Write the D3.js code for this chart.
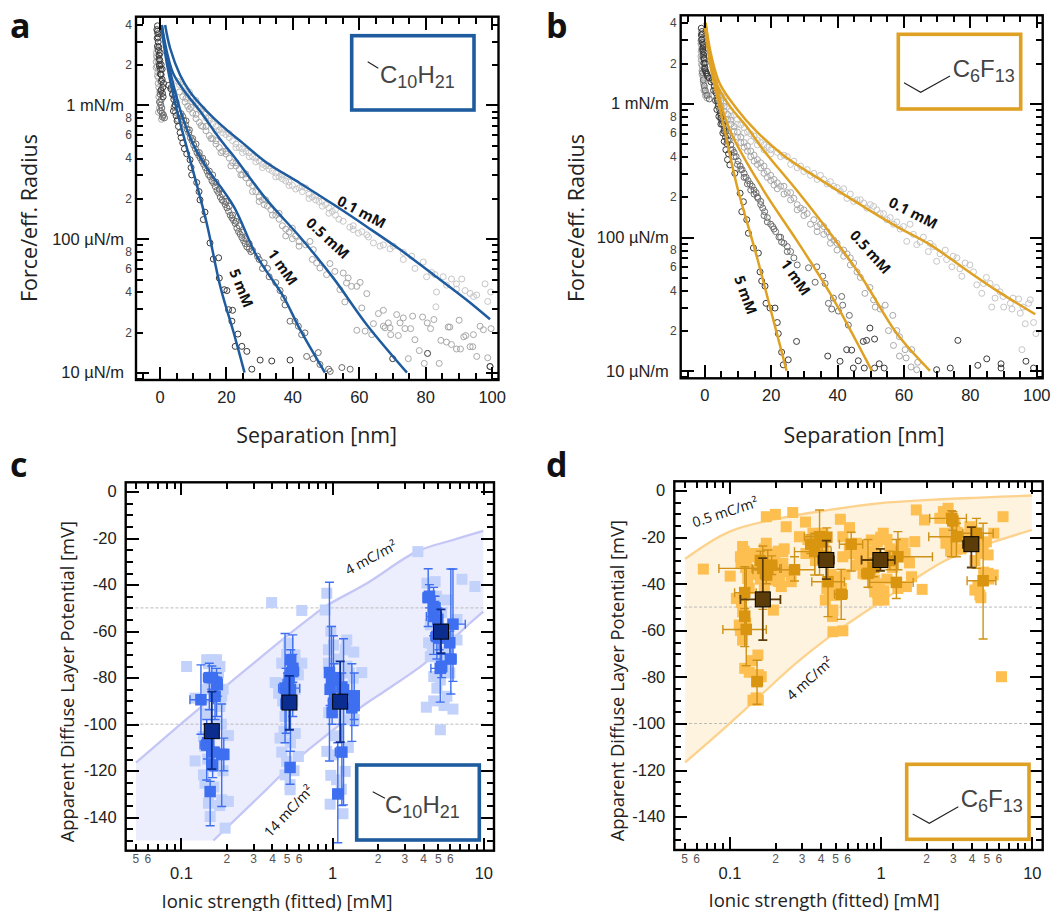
<!DOCTYPE html>
<html><head><meta charset="utf-8">
<style>html,body{margin:0;padding:0;background:#fff}svg{display:block}text{font-family:"Liberation Sans",Arial,sans-serif}
.ot{font-family:"Open Sans",sans-serif}.tick line{shape-rendering:crispEdges}</style>
<script src="https://cdn.jsdelivr.net/npm/d3@7/dist/d3.min.js"></script></head><body>
<svg id="c" width="1051" height="911"></svg>
<script>
// ---------- panel a : separation [nm], force/radius [µN/m] ----------
const a01=[[5.5,1500],[6,1420],[6.5,1480],[7.5,1350],[8,1260],[8.5,1190],[9.5,1120],[10,1050],[11,1010],[12,950],[12.5,890],[13.5,860],[14,800],[15,760],[16,720],[17,690],[18,650],[19,620],[20,600],[21,570],[22,540],[23,510],[24,480],[25,470],[26,450],[27,440],[28,410],[29,400],[30,380],[31,360],[32,350],[33,330],[34,320],[35,310],[36,290],[37,300],[38,270],[39,265],[40,250],[42,240],[43,225],[44,240],[45,215],[46,205],[47,195],[48,190],[49,175],[50,180],[51,170],[52,160],[53,150],[54,140],[55.3,135],[58.3,117],[59.9,110],[62.4,107],[64.4,93],[67.4,90],[70.4,88],[73.4,79],[75.9,74],[79.4,67],[76.9,60],[82.9,54],[85.4,52],[87.9,50],[91,50],[83.4,40],[83.2,31],[86.4,45],[89.4,42],[92,41],[93.5,39],[95.5,38],[98,46],[99.7,40],[98.8,34],[94.5,37],[81.9,56],[80.4,52],[89.4,46],[73.4,70],[69.4,84],[66.4,88],[58.3,125],[60.9,113],[62.9,103],[57.3,122],
[7,1420],[9,1250],[11,1080],[13,930],[15,800],[17,640],[19,660],[21,610],[23,480],[25,440],[27,410],[29,375],[31,340],[33,350],[35,290],[37,280],[39,250],[41,235],[43,245],[45,200],[47,210],[49,190],[51,155],[53,165]];
const a05=[[-0.9,2300],[-1,2100],[-0.7,1950],[-0.5,1750],[-0.3,1600],[-0.4,1450],[-0.7,2600],[-0.9,2450],[-0.6,2250],[-0.5,2150],[-1,1900],[-0.2,1850],[0.2,1700],[-0.6,1650],[0.3,1500],[-0.2,1350],[0.1,1250],[-0.2,1150],[0.3,1050],[0,950],[-0.3,880],[1,830],[0.6,780],[6,1250],[7,1150],[7.7,1050],[8.5,980],[9,930],[10,870],[11,790],[12,740],[13,690],[14,640],[15,590],[16,560],[17,510],[18,480],[19,450],[20,430],[21,400],[22,370],[23,350],[24,330],[25,300],[26,285],[27,260],[28,250],[29,225],[30,205],[31,195],[31.5,180],[32.5,175],[33.5,165],[35,150],[36,140],[37,125],[38,118],[39,112],[40,120],[41,105],[42,95],[45.3,95.5],[46.3,82.8],[47.3,65.9],[48.3,60.4],[50.3,53.9],[51.3,65.2],[52.8,57],[55.3,55.4],[56.8,50.9],[56.3,46.7],[57.8,44.1],[59.4,44.1],[60.4,47.2],[62.4,38.9],[54.3,41.7],[55.8,33.7],[60.9,30.4],[59.4,20.7],[61.9,20.4],[64.4,23.2],[63.9,19.2],[65.9,27.6],[67.4,29.2],[67.4,22.2],[68.9,23.5],[67.9,21.6],[69.4,21.6],[69.6,19.2],[71.9,18.9],[71.4,27.1],[73.4,25.6],[72.4,23.5],[73.9,21.3],[75.6,21.3],[76.2,26.4],[79.2,26],[80.6,23.5],[82.6,24.9],[81.6,21.3],[76.9,17.6],[78.2,14.6],[74.9,12.7],[79.7,11.7],[84.2,11.7],[90.2,24.6],[86.9,21.9],[87.4,21.9],[96.5,22.2],[97.5,20.9],[99.8,21.3],[84.7,17.4],[86.4,16.9],[87.9,16.2],[89.4,15],[90.6,15],[91.6,18.5],[92.2,18.9],[94.5,19.2],[93.5,15.6],[94.3,15.6],[95.5,13.2],[98.8,12.9],[99.5,11.1],
[8,1120],[9.5,960],[11,850],[12.5,700],[14,690],[15.5,560],[17,540],[18.5,440],[20,450],[21.5,350],[23,370],[24.5,300],[26,305],[28,225],[30,190],[32,195],[34,150],[36,155],[38,105],[40,100],[42,88],[44,90],[46,70]];
const a1=[[0.5,1300],[0.2,1200],[0.6,1100],[0,1050],[0.4,1000],[0.7,950],[0.3,900],[0.8,870],[1.2,840],[0.9,810],[1.5,800],[3.5,1350],[4,1200],[4.5,1150],[5,1050],[4.4,960],[4.8,880],[5.5,780],[6.5,860],[7,820],[7.3,770],[7.8,710],[8.3,660],[8.8,620],[9.3,570],[9.8,540],[10.3,500],[10.8,470],[11.3,440],[11.8,420],[12.3,400],[12.8,380],[13.3,360],[13.8,340],[14.3,320],[14.8,300],[15.3,290],[15.8,270],[16.3,260],[16.8,245],[17.3,230],[17.8,220],[18.3,205],[18.8,195],[19.3,190],[19.8,180],[20.3,170],[20.8,160],[21.3,150],[21.8,143],[22.3,137],[22.8,130],[23.3,120],[23.8,113],[24.3,108],[24.8,102],[25.3,97],[25.8,92],[26.3,87],[27,84],[27.5,80],[29.5,74],[31,60],[32.5,60],[33,52],[35,47],[36.3,41],[37.4,36],[37.8,32],[39.3,24.2],[40.8,24.2],[41.8,22.2],[43.8,19.8],[42.8,19.2],[44.3,13.2],[46.3,12.7],[47.8,14.1],[48.3,11.5],[50.9,10.6],[51.4,10.2],[54.9,10.9],[57.4,10.6],
[8,760],[9,650],[10,560],[11,510],[12,440],[13,400],[14,370],[15,320],[16,300],[17,265],[18,235],[19,215],[20,190],[21,175],[22,150],[23,135],[24,125],[25,112],[26,100],[27,92],[28,82],[30,70],[31.5,66]];
const a5=[[-0.6,3900],[-0.8,3650],[-0.5,3400],[-0.7,3150],[-0.4,2950],[-0.6,2750],[-0.3,2550],[-0.1,2350],[0.1,2150],[0,2000],[0.3,1850],[0.5,1680],[0.8,1550],[1.2,1450],[2.8,1400],[3.4,1320],[3.9,1200],[4.3,1100],[4.7,1000],[4.2,900],[5,830],[5.3,760],[5.7,690],[6.2,620],[6.5,570],[7,520],[7.5,470],[8.2,431],[9.2,389],[9.5,340],[9.7,300],[11.2,263],[11.9,225],[12.2,195],[13.7,158],[13.2,139],[15.2,93],[16.2,70.5],[17.8,72],[18,50.8],[19.5,41.6],[20.3,41],[20.8,29.5],[22,29.2],[21.8,24.2],[23.6,19.4],[24.8,15.7],[22.8,15.7],[26.3,14.4],[30.3,12.4],[33.8,12.2],[39.3,12.4],[27.8,10.6],[80.7,13.9],[70.2,12.7],[99.5,11.1],
[0,1950],[-0.2,2700],[-0.6,3550],[-0.4,3200],[0.2,2450],[-0.1,2200],[0.5,2000],[0.8,1850],[0.3,1700],[0.6,1500],[1,1350],[0.9,1220],[1.1,1150],[0.4,1280]];
const aFit01=[[1.7,3950],[3.2,2650],[6.2,1675],[9.2,1250],[14.2,900],[19.1,688],[25.1,518],[32.3,370],[42.3,260],[52.4,180],[62.4,123],[72.4,83],[82.4,54],[92.4,35],[99.5,25]];
const aFit05=[[0.7,3950],[2.2,2500],[4.2,1700],[8.2,1200],[12.2,900],[17.2,600],[20.2,480],[22.3,415],[32.3,195],[42.3,103],[52.3,51],[62.4,22.8],[74.5,10]];
const aFit1=[[0.7,3950],[1.7,2660],[4.2,1410],[6.7,842],[10.2,503],[14.2,340],[22.3,175],[29.3,74],[37.3,37],[42.3,21],[49.8,10]];
const aFit5=[[0.5,3950],[2.2,2050],[5.2,920],[9.2,390],[14.2,131],[18.3,44],[22.3,20],[25.6,10]];

// ---------- panel b ----------
const b01=[[3,1300],[5,1150],[6,1020],[7,950],[8,880],[9,820],[10,760],[11,690],[12,660],[13,610],[14,590],[15,570],[16,530],[17,510],[18,490],[19,470],[20,450],[22,430],[24,410],[25,400],[27,370],[29,340],[31,320],[33,300],[35,290],[36,270],[38,260],[40,235],[42,230],[44,210],[46,190],[48,180],[50,175],[52,160],[54,150],[56,140],[58,130],[60,120],[61,93],[62,125],[64,88],[66,100],[67.5,78],[69,85],[70,66],[72.6,80],[74.6,60],[76.1,70],[77.6,51],[78.6,64],[81.1,55],[82.1,44],[83.6,38],[84.1,45],[86.1,45],[86.6,30],[87.6,35],[89.1,39],[90.2,30],[92.2,32],[92.7,29],[94.7,34.5],[95.2,27],[95.7,14.4],[96.7,22.5],[97.7,32],[98.2,34],[99.2,23],[99.9,19],
[4,1250],[6,1100],[8,800],[10,700],[12,600],[14,520],[16,490],[18,450],[20,420],[23,400],[26,350],[28,330],[30,310],[32,290],[34,270],[37,250],[39,240],[41,220],[43,195],[45,185],[47,190],[49,165],[51,170],[53,150],[55,135],[57,125],[59,115],[63,105],[65,92],[68,90],[71,75],[73,68],[75,72],[77,58],[80,62],[85,50],[88,42],[90,36],[93,35],[96,30]];
const b05=[[-1,2950],[-0.9,2750],[-0.8,2550],[-0.7,2300],[-0.9,2100],[-0.6,1900],[-0.7,1750],[-0.4,1600],[-0.3,1450],[0,1300],[0.5,1200],[1.2,1150],[4,1150],[5,1050],[6,950],[7,830],[8,750],[9,670],[10,610],[11,560],[12,510],[13,480],[14,440],[15,410],[16,380],[17,360],[18,340],[19,310],[20,290],[21,270],[22,255],[23,240],[24,240],[25,215],[26,215],[27,195],[28,175],[29,165],[30,160],[31,150],[33,135],[34,120],[35,125],[36,120],[37,110],[38,100],[39,95],[40,90],[42,80],[43,75],[44,70],[45,64],[46,55],[47,50],[49.9,42],[48.4,38],[51,34],[51.5,30],[54.5,31],[53,29],[56.8,26],[55.5,20],[58,20],[58.8,18],[57,15.5],[60.5,14.4],[62.5,14.4],[58.8,12.9],[60.8,12.5],[64.3,11.6],[62.3,10.7],[64,10.2],
[5,950],[6,870],[7,760],[8,700],[9,620],[10,560],[11,510],[12,470],[13,440],[14,400],[15,370],[16,350],[17,330],[18,300],[19,280],[20,265],[21,245],[22,230],[24,210],[26,190],[28,160],[30,145],[32,125],[34,110],[36,105],[38,90],[40,80],[42,72],[44,62],
[-0.8,3000],[-1,2800],[-0.6,2600],[-0.9,2450],[-1,2250],[-0.5,2050],[-0.8,1950],[-0.5,1800],[-0.7,1650],[-0.3,1550],[-0.2,1400],[-0.1,1250],[0.3,1150],[0.8,1100]];
const b1=[[-0.5,1700],[-0.3,1500],[0,1350],[0.3,1250],[0.8,1150],[1.5,1080],[3,1450],[3.4,1250],[3.8,1100],[4.2,1000],[4.6,900],[5,820],[5.5,740],[6,680],[6.5,620],[7,570],[7.5,530],[8,490],[8.5,450],[9,430],[9.6,400],[10.2,370],[10.8,340],[11.4,320],[12,300],[12.6,280],[13.2,265],[13.8,250],[14.4,240],[15,225],[15.6,215],[16.2,195],[17,185],[17.6,165],[18.2,155],[19,140],[20,125],[20.6,120],[21.5,110],[22.5,100],[23.3,92],[24,90],[25,85],[26,78],[27,70],[28,62],[31.4,59],[33.9,60],[35.7,51],[33.4,46],[36.4,45],[38.9,35],[41.4,36],[37.4,32],[38.4,29],[40.4,28],[41.7,31],[43.7,26],[43.4,22],
[4,1050],[5,760],[6,640],[7,530],[8,450],[9,400],[10,350],[11,320],[12,280],[13,250],[14,225],[15,210],[16,200],[17,175],[18,145],[19,130],[21,115],[23,100],[25,78]];
const b5=[[-0.9,3650],[-0.7,3450],[-0.9,3250],[-0.5,3050],[-0.6,2850],[-0.3,2650],[-0.4,2450],[-0.2,2300],[0,2150],[-0.1,2000],[0.2,1850],[0.4,1750],[0.8,1650],[1.5,1550],[2.5,1500],[3,1350],[3.5,1200],[4,1050],[4.2,950],[4.8,850],[5,780],[5.5,700],[6,620],[6.4,560],[6.8,500],[7.3,420],[7.7,347],[9.2,300],[10.8,213],[11.8,184],[11.3,155],[12.8,135],[13.3,107],[14.8,83],[16.3,76],[16.8,55],[17.3,47],[18.3,43],[18.6,32],[19.8,29.5],[21.3,29.5],[22,23],[22.3,19],[23.3,13.8],[25.3,12.1],[23.8,11.1],[27.8,16.6],[37.2,12.9],[40.9,11.8],[46.4,11.9],[42.9,14.4],[44.4,14.3],[47.9,16.6],[48.9,16.9],[51.3,17.3],[49.9,20.9],[44.9,10.5],[48.2,10.5],[51.3,10.5],[52.7,11.3],[54.2,10.5],[70,10.2],[74.1,10.5],[76.4,16.9],[82.4,11],[85.1,12.3],[89.4,11.3],[89.4,10.5],[96.9,11.8],[99.2,10.5],
[-0.6,3300],[-0.8,3000],[-0.3,2750],[-0.5,2550],[0,2400],[-0.2,2200],[0.3,2000],[0.1,1800],[0.6,1700],[1,1600],[2,1450],[2.8,1250],[3.4,1050],[3.8,900],[4.4,800],[5,700],[5.6,600],[6,520],[6.5,450],[7,380]];
const bFit01=[[0.4,4000],[2.2,2230],[4.7,1400],[9.7,918],[15.8,615],[23.8,410],[35.9,260],[48,169],[58,120],[68,88],[78,59],[88,40],[99.7,26.5]];
const bFit05=[[0.4,4000],[1.7,2360],[3.7,1410],[7.7,950],[12.8,670],[17.8,449],[27.8,225],[37.9,107],[47.9,48],[58,19],[68,10]];
const bFit1=[[0.2,4000],[1.7,2230],[3.7,1330],[7.7,630],[17.8,225],[27.8,95],[37.9,38],[50.5,10]];
const bFit5=[[0.1,4000],[1.7,2000],[5.7,710],[9.7,250],[15.8,72],[19.8,30],[24.8,10]];

// ---------- panel c : ionic strength [mM], potential [mV] ----------
const cLight=[[.109,-75.2],[.124,-115.8],[.124,-88.8],[.148,-72.3],[.16,-72.3],[.172,-72.3],[.181,-75.2],[.177,-78],[.186,-88],[.206,-104.9],[.148,-95.3],[.144,-109.6],[.141,-121.8],[.144,-125.4],[.152,-134],[.156,-139.7],[.186,-132.5],[.206,-133.2],[.196,-144.7],[.172,-115.3],[.164,-118.2],[.181,-92.4],[.141,-105.3],[.152,-74],[.168,-76],[.19,-85],[.15,-85],[.17,-100],[.185,-100],[.15,-115],[.19,-120],[.165,-127],[.18,-135],
[.398,-47.7],[.63,-51.1],[.42,-82.1],[.464,-73.8],[.63,-73.8],[.583,-74.5],[.568,-70.2],[.443,-86.7],[.452,-106],[.464,-112],[.598,-113.9],[.527,-128.2],[.488,-121.8],[.554,-70.9],[.598,-78.8],[.488,-82.4],[.488,-96.7],[.514,-65.2],[.527,-126],[.5,-70],[.52,-76],[.55,-90],[.47,-90],[.57,-85],[.48,-103],[.53,-108],[.57,-104],[.5,-116],[.56,-120],
[.922,-43.7],[.9,-50.9],[1.25,-63.8],[1.39,-69],[1.57,-77.8],[1.22,-68],[1.38,-80.2],[1.32,-89.5],[1.19,-98.1],[.922,-111.7],[1.02,-113.2],[1.22,-120.3],[.97,-134.4],[1.18,-138.5],[1.07,-123.9],[.946,-73.8],[.946,-68],[.98,-60],[1.02,-66],[1.1,-72],[1.25,-75],[1.3,-78],[1,-85],[1.12,-95],[.95,-95],[1.05,-105],[1.15,-128],[1.28,-110],[.98,-122],[1.4,-98],
[3.69,-25.8],[7.23,-37.7],[8.8,-40.8],[4.24,-39.4],[4.8,-38.7],[5.74,-46.6],[6.7,-55],[4.35,-65],[6.7,-63.8],[4.46,-71],[4.93,-84.5],[5.74,-88],[4.2,-92.7],[6.3,-93.5],[5.2,-102.4],[4.7,-79.5],[5.9,-68],[4.46,-57.3],[4.5,-45],[4.9,-45],[5.3,-52],[5.6,-60],[5,-58],[4.6,-67],[5.1,-70],[5.6,-75],[4.7,-90],[5.5,-92],[5.2,-81],[6,-78]];
// columns: I, V, Ilo, Ihi, Vlo, Vhi
const cMid=[[.1356,-89.5,.1147,.164,-104.3,-74.5],[.154,-80,.141,.172,-93.8,-73.8],[.172,-82,.16,.186,-96.7,-76],[.168,-88,.156,.181,-98,-79.5],[.148,-109,.134,.164,-124,-98],[.186,-113,.16,.201,-135.4,-91.3],[.162,-117.5,.148,.172,-123,-112],[.156,-129,.148,.164,-143.7,-124.6],[.15,-108,.14,.16,-115,-100],[.165,-112,.155,.18,-120,-105],[.192,-113,.18,.205,-120,-106],[.16,-80,.15,.17,-85,-75],[.174,-83,.165,.185,-88,-78],
[.549,-77.4,.5,.6,-96.7,-61.6],[.488,-84.5,.443,.61,-108,-61],[.532,-72.3,.5,.56,-91.7,-68],[.496,-91.3,.46,.53,-103.9,-76],[.527,-118.6,.5,.56,-125.8,-111.7],[.53,-85,.5,.56,-111.7,-71],[.51,-84,.48,.54,-90,-78],[.55,-76,.52,.58,-82,-70],[.52,-80,.49,.55,-86,-74],[.5,-87,.47,.53,-93,-81],
[.96,-77.8,.9,1.02,-115.8,-39],[.99,-81,.93,1.05,-96,-58],[1.02,-91,.95,1.08,-96,-62],[1.19,-85.2,1.1,1.28,-134.7,-63.3],[1.4,-87.8,1.3,1.5,-100.6,-78],[1.35,-93,1.25,1.42,-107.4,-74],[1.16,-112,1.05,1.22,-135,-100],[1.09,-130,1.02,1.16,-151,-108],[.97,-85,.92,1.02,-92,-78],[1,-95,.95,1.05,-100,-90],[1.16,-84,1.1,1.22,-90,-78],[1.03,-80,.98,1.08,-86,-74],[1.4,-92,1.32,1.48,-98,-86],
[4.32,-45.6,4,4.7,-58,-33.2],[4.69,-49.4,4.4,5,-62,-41.2],[4.69,-53.7,4.2,5.3,-70,-45],[4.93,-62.3,4.5,5.4,-72,-50],[6.3,-57,5.2,7.6,-81.6,-33.3],[6.1,-72,5.6,6.6,-87,-33.3],[5.19,-76,4.5,5.7,-90.5,-62],[4.4,-45,4.1,4.7,-50,-40],[4.8,-50,4.5,5.1,-55,-45],[5,-55,4.7,5.3,-60,-50],[5.1,-63,4.8,5.4,-68,-58],[5.3,-75,5,5.6,-80,-70],[6,-65,5.7,6.3,-70,-60]];
const cMean=[[.16,-103,.148,.172,-119.3,-86],[.522,-90.7,.48,.56,-102.4,-79.2],[1.13,-90.3,1.02,1.25,-107.7,-73],[5.25,-60.2,4.95,5.55,-69.5,-50.6]];
const cUpper=[[.0504,-116.5],[.0995,-100],[.222,-81],[.527,-61],[.713,-54.3],[.9,-49.4],[1.7,-39.4],[3.62,-25.8],[6.3,-20.8],[10,-16.9]];
const cLower=[[.164,-150],[.369,-128],[.614,-114],[1.02,-102.4],[1.53,-93],[2.29,-85.3],[3.98,-74.5],[5.8,-65.5],[8.15,-56.6],[10,-51.6]];
const cFloorI=[.0504,.164], cFloorV=-150;

// ---------- panel d ----------
const dLight=[[.175,-11.2],[.201,-10.2],[.262,-9.4],[.237,-15.5],[.318,-13.5],[.541,-12.3],[.622,-15.9],[.122,-24],[.118,-28.4],[.119,-31.2],[.146,-28.4],[.175,-22.6],[.225,-26.2],[.199,-27.6],[.225,-31.2],[.15,-34.1],[.256,-39.1],[.22,-41.2],[.132,-37.7],[.101,-36.7],[.0671,-33.7],[.195,-51.3],[.111,-46.3],[.483,-51.3],[.483,-60.6],[.562,-60.2],[.154,-70.6],[.126,-76.3],[.162,-79.9],[.143,-90],[.122,-64.2],[.116,-57.7],[.562,-19.8],[.562,-28.4],[.69,-22.6],[.726,-28.4],[.845,-31.9],[.912,-38.4],[.959,-47],[.508,-37],[.459,-44.1],[.29,-19.8],[.356,-18.3],[.415,-18.3],[.214,-36.7],[.179,-38.4],[.179,-32.7],[.158,-29.8],[.243,-34.8],[.366,-22.6],
[1.72,-8.3],[1.95,-12.6],[2.79,-7.6],[2.46,-11.9],[2.65,-18.3],[2.7,-22.6],[6.45,-11.2],[5.6,-18.3],[1.68,-21.9],[1.41,-22.6],[1.04,-18.3],[.867,-21.2],[.764,-23.3],[1.05,-47],[.912,-43.4],[.764,-35.5],[1.88,-42.4],[1.48,-41.2],[4.2,-42.7],[4.53,-44.8],[5.14,-35.5],[5.55,-36.2],[5.14,-27.6],[6.3,-79.9],[3.09,-14],[3.89,-15.5],[4.76,-24],
[.125,-26],[.13,-29],[.128,-33],[.14,-27],[.155,-27],[.165,-30],[.17,-25],[.19,-27],[.21,-26],[.23,-25],[.185,-31],[.2,-33],[.21,-39],[.19,-37],[.17,-42],[.16,-38],[.145,-36],[.135,-42],[.12,-48],[.128,-57],[.118,-60],[.122,-52],[.14,-73],[.155,-79],[.135,-78],[.15,-89],[.155,-90],
[.33,-21],[.36,-25],[.39,-22],[.42,-24],[.45,-30],[.37,-30],[.32,-27],[.47,-36],[.44,-42],[.43,-47],[.52,-40],[.55,-42],[.58,-36],[.5,-45],[.48,-54],
[.62,-25],[.66,-27],[.7,-32],[.74,-25],[.78,-28],[.82,-31],[.8,-36],[.86,-35],[.9,-26],[.95,-22],[1,-20],[1.1,-21],[1.15,-25],[1.2,-33],[1.1,-38],[.98,-40],[.9,-40],[.95,-44],[1.3,-42],[1.05,-43],[1.45,-27],[1.55,-31],[1.3,-26],[1.6,-37],
[2.6,-9],[3,-12],[3.2,-18],[3,-22],[3.4,-25],[3.7,-20],[4,-17],[4.4,-22],[4.6,-27],[5,-22],[4.2,-30],[4.8,-35],[4.4,-41],[4.6,-46],[5.2,-38],[2.9,-26]];
const dMid=[[.126,-43.8,.108,.15,-50.6,-32.7],[.126,-53.9,.118,.134,-67,-47],[.129,-59.6,.0903,.175,-75.2,-33.4],[.152,-82,.141,.165,-91.7,-72.8],[.166,-33.4,.085,.22,-51,-23.8],[.179,-33.4,.141,.215,-38.4,-25.5],[.269,-34,.143,.366,-38.8,-28.4],[.366,-26.2,.269,.47,-36.2,-18.3],[.394,-19.8,.313,.459,-36.2,-8.3],[.448,-39.1,.35,.576,-54.1,-29.8],[.548,-44.5,.495,.6,-55.3,-33.8],[.638,-23,.533,.76,-34.5,-17.9],[.824,-35.5,.75,.9,-41.5,-21],[1.27,-39.4,.845,1.64,-46.3,-21],[1.3,-28.4,1.12,2.2,-34,-17.6],[2.94,-11.9,2.11,3.69,-28.4,-8.6],[3.17,-19.8,2.08,4.76,-28.4,-14],[4.76,-38.7,3.73,5.78,-63.7,-14],[4.3,-18.3,3.5,5.55,-33.4,-11.9],
[.175,-36,.16,.19,-40,-32],[.16,-30,.15,.17,-34,-26],[.19,-32,.175,.205,-36,-28],[.345,-23,.32,.37,-27,-19],[.41,-22,.385,.435,-26,-18],[.44,-20,.41,.47,-24,-16],[.9,-33,.85,.95,-37,-29],[1.15,-30,1.08,1.22,-34,-26],[3,-13,2.8,3.2,-17,-9]];
const dMean=[[.166,-46.7,.118,.217,-64.2,-29],[.437,-29.8,.387,.49,-38,-21.5],[.995,-29.8,.747,1.24,-34.4,-25],[3.98,-23,3.5,4.4,-33,-15.7]];
const dUpper=[[.0508,-29.3],[.1,-17.6],[.214,-11.9],[.459,-8.3],[1,-5.4],[2.11,-4],[4.53,-3],[10,-2.1]];
const dLower=[[.0508,-116.7],[.1,-100],[.166,-87],[.277,-74],[.459,-62.7],[.764,-52.7],[1,-47.7],[1.64,-38.4],[2.72,-29.8],[4.53,-24],[10,-16.9]];

// ---------- tick labels ----------
const sepMajor=[0,20,40,60,80,100], sepMinor=[-5,5,10,15,25,30,35,45,50,55,65,70,75,85,90,95];
const forceMajor=[10,100,1000], forceMinor=[9,20,30,40,50,60,70,80,90,200,300,400,500,600,700,800,900,2000,3000,4000];
const forceSmallLabels=[20,40,60,80,200,400,600,800,2000,4000];
const forceNames=new Map([[10,"10 µN/m"],[100,"100 µN/m"],[1000,"1 mN/m"]]);
const ionMajor=[.1,1,10], ionMinor=[.05,.06,.07,.08,.09,.2,.3,.4,.5,.6,.7,.8,.9,2,3,4,5,6,7,8,9];
const ionSmallLabels=[.05,.06,.2,.3,.4,.5,.6,2,3,4,5,6];
const potMajor=[0,-20,-40,-60,-80,-100,-120,-140], potMinor=[-5,-10,-15,-25,-30,-35,-45,-50,-55,-65,-70,-75,-85,-90,-95,-105,-110,-115,-125,-130,-135,-145,-150];
const gridPot=[-50,-100];

const svg=d3.select("#c");
const BLUE="#1f5c9f", GOLD="#dfa124", INK="#222";

function frame(box){
  const g=svg.append("g").attr("transform",`translate(${box.x0},${box.y0})`);
  g.w=box.x1-box.x0; g.h=box.y1-box.y0; return g;
}
function tickAxis(g,axis,tr){
  const s=g.append("g").attr("transform",tr).call(axis);
  s.select(".domain").remove();
  s.selectAll("line").attr("stroke","#000").attr("stroke-width",2);
  return s;
}
function axes(g,x,y,o){
  const w=g.w,h=g.h;
  const noText=()=>"";
  const bt=`translate(0,${h})`, rt=`translate(${w},0)`;
  [[o.xMinor,7],[o.xMajor,13]].forEach(([v,len])=>{
    tickAxis(g,d3.axisBottom(x).tickValues(v).tickSize(-len).tickFormat(noText),bt);
    tickAxis(g,d3.axisTop(x).tickValues(v).tickSize(-len).tickFormat(noText),"translate(0,0)");
  });
  [[o.yMinor,7],[o.yMajor,13]].forEach(([v,len])=>{
    tickAxis(g,d3.axisLeft(y).tickValues(v).tickSize(-len).tickFormat(noText),"translate(0,0)");
    tickAxis(g,d3.axisRight(y).tickValues(v).tickSize(-len).tickFormat(noText),rt);
  });
  const lab=(sel,fs,col)=>{sel.selectAll("text").attr("font-size",fs).attr("fill",col);sel.selectAll("line").remove();};
  lab(tickAxis(g,d3.axisBottom(x).tickValues(o.xMajor).tickSize(0).tickPadding(o.xPad).tickFormat(o.xFmt),bt),16.5,INK);
  if(o.xSmall) lab(tickAxis(g,d3.axisBottom(x).tickValues(o.xSmall).tickSize(0).tickPadding(4).tickFormat(d=>d<1?String(Math.round(d*(d<.1?100:10))):String(d)),bt),12,"#555");
  lab(tickAxis(g,d3.axisLeft(y).tickValues(o.yMajor).tickSize(0).tickPadding(o.yPad).tickFormat(o.yFmt),"translate(0,0)"),o.yFs,INK);
  if(o.ySmall) lab(tickAxis(g,d3.axisLeft(y).tickValues(o.ySmall).tickSize(0).tickPadding(4).tickFormat(d=>String(d).charAt(0)),"translate(0,0)"),12,"#444");
  g.append("rect").attr("width",w).attr("height",h).attr("fill","none").attr("stroke","#000").attr("stroke-width",2.4);
}
function title(txt,cx,cy,rot,fs){
  svg.append("text").attr("class","ot").attr("transform",`translate(${cx},${cy}) rotate(${rot})`)
    .attr("text-anchor","middle").attr("dominant-baseline","central").attr("font-size",fs).attr("fill","#222").text(txt);
}
function panelLetter(t,x,y){svg.append("text").attr("class","ot").attr("x",x).attr("y",y).attr("font-weight",700).attr("font-size",34).attr("fill","#111").text(t);}
function note(txt,cx,cy,rot,bold,fs){
  const e=svg.append("text").attr("class","ot").attr("transform",`translate(${cx},${cy}) rotate(${rot})`)
    .attr("text-anchor","middle").attr("dominant-baseline","central").attr("font-size",fs).attr("fill","#111");
  if(bold)e.attr("font-weight",700);
  e.text(txt);
}
function legend(box,col,parts,tx,ty,chain){
  svg.append("rect").attr("x",box[0]).attr("y",box[1]).attr("width",box[2]-box[0]).attr("height",box[3]-box[1])
    .attr("fill","#fff").attr("stroke",col).attr("stroke-width",3.6);
  svg.append("path").attr("d",d3.line()(chain)).attr("fill","none").attr("stroke","#222").attr("stroke-width",1.1);
  const t=svg.append("text").attr("x",tx).attr("y",ty).attr("fill","#444");
  parts.forEach((p,i)=>{
    const sub=i%2===1;
    t.append("tspan").text(p).attr("font-size",sub?18:24).attr("dy",sub?5:(i>0?-5:0));
  });
}
function scatter(g,data,x,y,col){
  g.append("g").selectAll("circle").data(data).join("circle")
    .attr("cx",d=>x(d[0])).attr("cy",d=>y(d[1])).attr("r",3)
    .attr("fill","none").attr("stroke",col).attr("stroke-width",1);
}
function fit(g,data,x,y,col,wd){
  g.append("path").datum(data).attr("d",d3.line().x(d=>x(d[0])).y(d=>y(d[1])).curve(d3.curveCatmullRom.alpha(0.5)))
    .attr("fill","none").attr("stroke",col).attr("stroke-width",wd);
}
function forcePanel(box,series,fits,col){
  const g=frame(box);
  const x=d3.scaleLinear().domain(box.xd).range([0,g.w]);
  const y=d3.scaleLog().domain(box.yd).range([g.h,0]);
  const cols=["#c6c6c6","#a8a8a8","#6c6c6c","#3a3a3a"];
  series.forEach((s,i)=>scatter(g,s,x,y,cols[i]));
  fits.forEach(f=>fit(g,f,x,y,col,2.5));
  axes(g,x,y,{xMajor:sepMajor,xMinor:sepMinor,yMajor:forceMajor,yMinor:forceMinor,ySmall:forceSmallLabels,
    xPad:11,yPad:12,yFs:16.5,xFmt:d=>d,yFmt:d=>forceNames.get(d)});
}
function potPanel(box,o){
  const g=frame(box);
  const x=d3.scaleLog().domain(box.xd).range([0,g.w]);
  const y=d3.scaleLinear().domain(box.yd).range([g.h,0]);
  const line=d3.line().x(d=>x(d[0])).y(d=>y(d[1])).curve(d3.curveCatmullRom.alpha(0.5));
  g.append("path").attr("d",d3.line().x(d=>x(d[0])).y(d=>y(d[1]))(o.area)).attr("fill",o.band);
  g.append("g").selectAll("line").data(gridPot).join("line").attr("x1",x(.05)).attr("x2",x(10)).attr("y1",d=>y(d)).attr("y2",d=>y(d))
    .attr("stroke","#bbb").attr("stroke-width",1).attr("stroke-dasharray","3,2");
  [o.upper,o.lower].forEach(c=>g.append("path").attr("d",line(c)).attr("fill","none").attr("stroke",o.edge).attr("stroke-width",2.3));
  const sq=(sel,data,s,fill)=>sel.append("g").selectAll("rect").data(data).join("rect")
     .attr("x",d=>x(d[0])-s/2).attr("y",d=>y(d[1])-s/2).attr("width",s).attr("height",s).attr("fill",fill);
  sq(g,o.light,11,o.cLight);
  const bars=(data,col,wd,cap)=>{
    const b=g.append("g").attr("stroke",col).attr("stroke-width",wd).attr("fill","none");
    b.selectAll("path").data(data).join("path").attr("d",d=>{
      const X=x(d[0]),Y=y(d[1]),xl=x(d[2]),xh=x(d[3]),yl=y(Math.max(d[4],box.yd[0])),yh=y(d[5]);
      return `M${xl},${Y}H${xh}M${xl},${Y-cap}V${Y+cap}M${xh},${Y-cap}V${Y+cap}M${X},${yl}V${yh}M${X-cap},${yl}H${X+cap}M${X-cap},${yh}H${X+cap}`;
    });
  };
  bars(o.mid,o.cBar,1.4,4.5);
  sq(g,o.mid,11.5,o.cMid);
  bars(o.mean,o.cMean,1.8,4.5);
  sq(g,o.mean,15,o.cMean).attr("stroke","#000").attr("stroke-width",1);
  axes(g,x,y,{xMajor:ionMajor,xMinor:ionMinor,yMajor:potMajor,yMinor:potMinor,xSmall:ionSmallLabels,
    xPad:17,yPad:9,yFs:16.5,xFmt:d=>d,yFmt:d=>d});
}

forcePanel({x0:136,x1:498.5,y0:16.7,y1:380,xd:[-7.07,102.05],yd:[8.8,4560]},[a01,a05,a1,a5],[aFit01,aFit05,aFit1,aFit5],BLUE);
forcePanel({x0:680.7,x1:1042.7,y0:15.3,y1:378.3,xd:[-7.1,101.95],yd:[8.8,4560]},[b01,b05,b1,b5],[bFit01,bFit05,bFit1,bFit5],GOLD);
potPanel({x0:125.7,x1:494,y0:482.3,y1:850.7,xd:[.0431,11.77],yd:[-154.4,4]},
 {area:[...cUpper,...cLower.slice().reverse(),[cFloorI[0],cFloorV]],band:"#ecedfd",edge:"#c4c6f6",upper:cUpper,lower:cLower,light:cLight,mid:cMid,mean:cMean,cLight:"#c3d2fb",cMid:"#3d6ff0",cBar:"#3d6ff0",cMean:"#0b2d90"});
potPanel({x0:674.3,x1:1042.7,y0:481.3,y1:850,xd:[.0431,11.8],yd:[-154.3,4]},
 {area:[...dUpper,...dLower.slice().reverse()],band:"#fdf3df",edge:"#fdd28c",upper:dUpper,lower:dLower,light:dLight,mid:dMid,mean:dMean,cLight:"#fdbf50",cMid:"#d9950f",cBar:"#cf9117",cMean:"#5c3c08"});

title("Force/eff. Radius",28,218,-90,21.5); title("Separation [nm]",316.7,434,0,21.4);
title("Force/eff. Radius",575,218,-90,21.5); title("Separation [nm]",864,434,0,21.4);
title("Apparent Diffuse Layer Potential [mV]",66,681.7,-90,18.3); title("Ionic strength (fitted) [mM]",277,900,0,18.5);
title("Apparent Diffuse Layer Potential [mV]",616,680.7,-90,18.3); title("Ionic strength (fitted) [mM]",824,899,0,18.5);
panelLetter("a",10,38);panelLetter("b",546,38);panelLetter("c",10,477);panelLetter("d",546,477);

note("0.1 mM",361.7,211.7,28,true,14.5);note("0.5 mM",328,238,43,true,14.5);note("1 mM",283,267,55,true,14.5);note("5 mM",241.7,288,68,true,14.5);
note("0.1 mM",913.3,212.7,27,true,14.5);note("0.5 mM",870.7,251.7,48,true,14.5);note("1 mM",796,277.3,55,true,14.5);note("5 mM",746,295,70,true,14.5);
note("4 mC/m²",370.7,557.3,-28,false,14);note("14 mC/m²",288.3,810.7,-47,false,14);
note("0.5 mC/m²",725,511.7,-18,false,14);note("4 mC/m²",809.3,678.3,-42,false,14);

legend([351.7,35.7,474,110],BLUE,["C","10","H","21"],380,83,[[367.7,61.7],[378.3,68.3]]);
legend([898.3,34.3,1020.7,109],GOLD,["C","6","F","13"],952.7,77,[[904,82.7],[920.7,92.3],[950,76]]);
legend([356.7,765,479.3,840],BLUE,["C","10","H","21"],385,812.7,[[372.7,791.7],[385,798.3]]);
legend([906.7,764.3,1029,839.3],GOLD,["C","6","F","13"],960.7,806.7,[[912.7,814],[929.3,823.3],[958.3,806.7]]);
</script></body></html>
